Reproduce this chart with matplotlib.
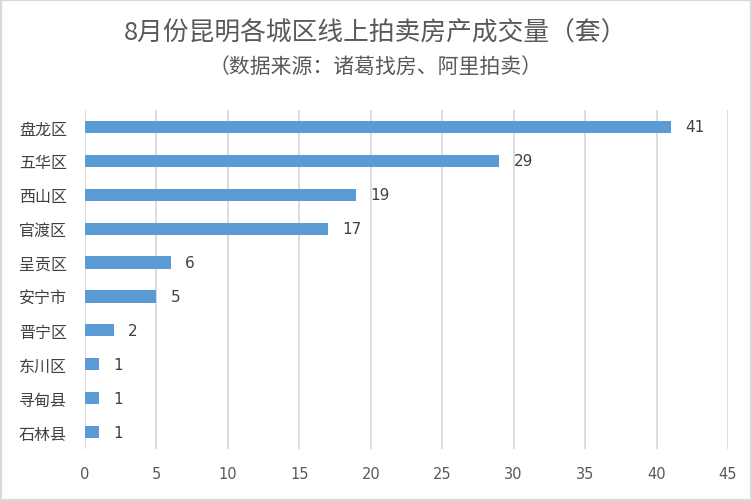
import matplotlib.pyplot as plt
from matplotlib.patches import Rectangle

plt.rcParams['font.family'] = ['Noto Sans CJK SC', 'DejaVu Sans']

districts = ["盘龙区", "五华区", "西山区", "官渡区", "呈贡区", "安宁市", "晋宁区", "东川区", "寻甸县", "石林县"]
deals = [41, 29, 19, 17, 6, 5, 2, 1, 1, 1]
x_ticks = list(range(0, 50, 5))

fig = plt.figure(figsize=(7.52, 5.02), dpi=100)
ax = fig.add_axes([85 / 752, 1 - 450 / 502, 643 / 752, 339 / 502])

pos = list(range(len(districts)))
ax.barh(pos, deals, height=0.36, color="#5B9BD5", zorder=3)
for p, v in zip(pos, deals):
    ax.text(v + 1.0, p, str(v), va="center", ha="left", fontsize=11,
            color="#404040", family="DejaVu Sans")

ax.set_ylim(len(districts) - 0.5, -0.5)
ax.set_xlim(0, 45)
ax.set_xticks(x_ticks)
ax.set_xticklabels([str(t) for t in x_ticks], fontsize=10.5, color="#595959",
                   family="DejaVu Sans")
ax.set_yticks(pos)
ax.set_yticklabels(districts, fontsize=11.5, color="#404040")
ax.tick_params(axis="both", length=0)
ax.tick_params(axis="x", pad=12)
ax.tick_params(axis="y", pad=13)
ax.grid(axis="x", color="#D9D9D9", linewidth=1.3, zorder=0)
for s in ax.spines.values():
    s.set_visible(False)

fig.text(0.5, 1 - 34 / 502, "8月份昆明各城区线上拍卖房产成交量（套）", ha="center",
         va="center", fontsize=18.5, color="#595959")
fig.text(0.5, 1 - 68 / 502, "（数据来源：诸葛找房、阿里拍卖）", ha="center",
         va="center", fontsize=15, color="#595959")

fig.patches.append(Rectangle((0, 0), 1, 1, transform=fig.transFigure, fill=False,
                             edgecolor="#D9D9D9", linewidth=3))

fig.savefig("out.png", dpi=100)
